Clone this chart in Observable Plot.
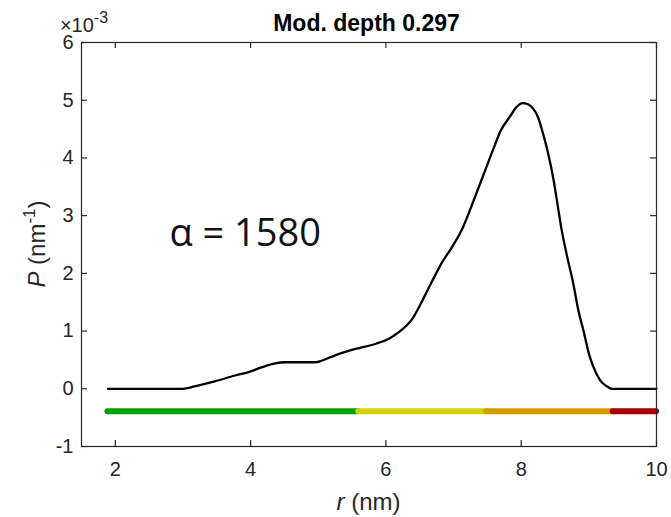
<!DOCTYPE html>
<html><head><meta charset="utf-8">
<script src="https://cdn.jsdelivr.net/npm/d3@7"></script>
<script src="https://cdn.jsdelivr.net/npm/@observablehq/plot@0.6"></script>
<style>body{margin:0;background:#fff}</style>
</head><body><div id="chart"></div>
<script>
// distance r (nm)
const r = [1.89, 3.0, 3.17, 3.47, 3.77, 3.97, 4.16, 4.36, 4.51, 4.96, 5.06, 5.25, 5.55, 5.85, 6.05, 6.19, 6.39, 6.54, 6.69, 6.83, 6.98, 7.14, 7.28, 7.43, 7.58, 7.70, 7.83, 7.93, 8.02, 8.10, 8.18, 8.25, 8.33, 8.40, 8.48, 8.52, 8.60, 8.67, 8.77, 8.85, 8.92, 9.00, 9.07, 9.17, 9.27, 9.34, 10.0];
// P (x10^-3 nm^-1)
const P = [0, 0, 0.04, 0.13, 0.23, 0.29, 0.37, 0.44, 0.46, 0.46, 0.49, 0.58, 0.69, 0.78, 0.87, 0.98, 1.21, 1.53, 1.88, 2.19, 2.46, 2.80, 3.21, 3.67, 4.13, 4.48, 4.71, 4.88, 4.95, 4.93, 4.85, 4.70, 4.39, 4.07, 3.61, 3.32, 2.74, 2.34, 1.82, 1.33, 1.01, 0.61, 0.37, 0.14, 0.04, 0, 0];
// reliability bar segments
const segStart = [1.89, 5.60, 7.49, 9.36];
const segEnd = [5.60, 7.49, 9.36, 10.0];
const segColor = ["#00a000", "#d2d200", "#d49a00", "#a80000"];
const segLevel = -0.39;
const xTicks = [2, 4, 6, 8, 10];
const yTicks = [-1, 0, 1, 2, 3, 4, 5, 6];
const titleText = "Mod. depth 0.297";
const alphaLabel = "α = 1580";

const W = 671, H = 517, mL = 81, mR = 15, mT = 42, mB = 71;
const pw = W - mL - mR, ph = H - mT - mB;
const ink = "#262626";
const curve = r.map((v, i) => ({r: v, P: P[i]}));
const segs = segStart.map((s, i) => ({x1: s, x2: segEnd[i], y: segLevel, c: segColor[i]}));

const svg = Plot.plot({
  width: W, height: H,
  marginLeft: mL, marginRight: mR, marginTop: mT, marginBottom: mB,
  style: {fontFamily: "'Liberation Sans', Arial, sans-serif", fontSize: "20px", color: ink, background: "white", overflow: "visible"},
  x: {domain: [1.5, 10]},
  y: {domain: [-1, 6]},
  color: {type: "identity"},
  marks: [
    Plot.ruleY(segs, {y: "y", x1: "x1", x2: "x2", stroke: "c", strokeWidth: 6, strokeLinecap: "round"}),
    Plot.line(curve, {x: "r", y: "P", stroke: "black", strokeWidth: 2.3, curve: "monotone-x"}),
    Plot.frame({stroke: ink, strokeWidth: 1.2}),
    Plot.ruleX(xTicks, {x: d => d, insetTop: ph - 6, stroke: ink, strokeWidth: 1.2}),
    Plot.ruleX(xTicks, {x: d => d, insetBottom: ph - 6, stroke: ink, strokeWidth: 1.2}),
    Plot.ruleY(yTicks, {y: d => d, insetRight: pw - 6, stroke: ink, strokeWidth: 1.2}),
    Plot.ruleY(yTicks, {y: d => d, insetLeft: pw - 6, stroke: ink, strokeWidth: 1.2}),
    Plot.axisX({ticks: xTicks, tickSize: 0, tickPadding: 15, label: null, fontSize: 20, tickFormat: d => String(d)}),
    Plot.axisY({ticks: yTicks, tickSize: 0, tickPadding: 8, label: null, fontSize: 20, tickFormat: d => String(d)}),
    Plot.text([alphaLabel], {x: () => 2.8, y: () => 2.48, text: d => d, textAnchor: "start", lineAnchor: "bottom",
      fontSize: 38, fontFamily: "'Open Sans', sans-serif", fill: "#111"})
  ]
});

const s = d3.select(svg);
const cx = mL + pw / 2;
s.append("text").attr("x", cx - 2).attr("y", 31).attr("text-anchor", "middle")
  .attr("font-size", 23).attr("font-weight", "bold").attr("fill", "#000").text(titleText);
const ex = s.append("text").attr("x", 84).attr("y", 32).attr("font-size", 20).attr("fill", ink);
ex.append("tspan").text("×10");
ex.append("tspan").attr("dy", -9).attr("font-size", 16).text("-3");
s.append("text").attr("x", cx).attr("y", 510).attr("text-anchor", "middle").attr("font-size", 24).attr("fill", ink)
  .call(t => { t.append("tspan").attr("font-style", "italic").text("r"); t.append("tspan").text(" (nm)"); });
const yl = s.append("text").attr("transform", `translate(45,${mT + ph / 2}) rotate(-90)`).attr("text-anchor", "middle")
  .attr("font-size", 24).attr("fill", ink);
yl.append("tspan").attr("font-style", "italic").text("P");
yl.append("tspan").text(" (nm");
yl.append("tspan").attr("dy", -10).attr("font-size", 17).text("-1");
yl.append("tspan").attr("dy", 10).text(")");
document.getElementById("chart").appendChild(svg);
</script>
</body></html>
